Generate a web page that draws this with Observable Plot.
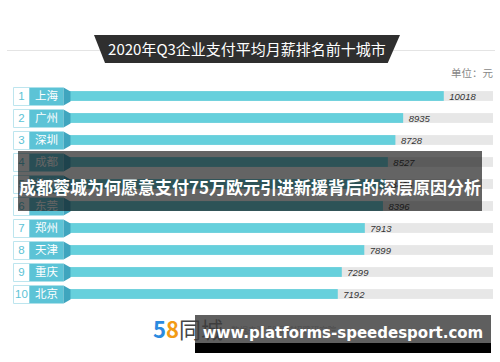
<!DOCTYPE html>
<html>
<head>
<meta charset="utf-8">
<script src="https://cdn.jsdelivr.net/npm/d3@7"></script>
<script src="https://cdn.jsdelivr.net/npm/@observablehq/plot@0.6"></script>
<style>
  body { margin: 0; background: #fff; }
  #wrap { position: relative; width: 500px; height: 362px; overflow: hidden; background: #fff;
          font-family: "Noto Sans CJK SC", "Noto Sans", sans-serif; }
  #chart { position: absolute; left: 0; top: 0; }
  .abs { position: absolute; }
</style>
</head>
<body>
<div id="wrap">
  <div id="chart"></div>
  <div class="abs" style="left:7px;top:50px;width:488px;height:1px;background:#e4e4e4"></div>
  <div class="abs" id="titlebox" style="left:94px;top:35px;width:306px;height:28px;background:#2f2f2f;
       clip-path:polygon(0 0,100% 0,96% 100%,3.6% 100%);"></div>
  <div class="abs" id="title" style="left:94px;top:35px;width:306px;height:28px;line-height:28px;text-align:center;
       color:#fff;font-size:15px;"></div>
  <div class="abs" id="unit" style="right:7px;top:65px;font-size:10.5px;color:#888;"></div>
  <div class="abs" id="logo" style="left:153px;top:314px;font-size:22px;line-height:28px;font-weight:bold;white-space:nowrap;"></div>
  <div class="abs" id="source" style="left:231px;top:323px;font-size:8.5px;color:#9a9a9a;white-space:nowrap;"></div>
  <div class="abs" id="banner" style="left:18px;top:151px;width:464px;height:60px;background:rgba(13,13,13,0.64);"></div>
  <div class="abs" id="bannerText" style="left:18px;top:151px;width:464px;height:60px;line-height:72px;text-align:center;
       color:#fff;font-weight:bold;font-size:17px;white-space:nowrap;"></div>
  <div class="abs" style="left:195px;top:315px;width:296px;height:28px;background:rgba(60,60,60,0.82);"></div>
  <div class="abs" style="left:195px;top:343px;width:296px;height:10px;background:#000;"></div>
  <div class="abs" id="wm" style="left:195px;top:322px;width:296px;text-align:center;color:#fff;font-weight:bold;
       font-family:'DejaVu Sans',sans-serif;font-size:15px;line-height:22px;white-space:nowrap;"></div>
</div>
<script>
// ---- data ----
const ranks = [1, 2, 3, 4, 5, 6, 7, 8, 9, 10];
const cities = ["上海", "广州", "深圳", "成都", "杭州", "东莞", "郑州", "天津", "重庆", "北京"];
const salaries = [10018, 8935, 8728, 8527, 8468, 8396, 7913, 7899, 7299, 7192];
const xMax = 11330;

const titleText = "2020年Q3企业支付平均月薪排名前十城市";
const unitText = "单位：元";
const sourceText = "数据来源:58同城招聘研究院";
const bannerText = "成都蓉城为何愿意支付75万欧元引进新援背后的深层原因分析";
const watermarkText = "www.platforms-speedesport.com";

const rows = cities.map((c, i) => ({rank: ranks[i], city: c, value: salaries[i]}));

// custom symbols (pixel geometry relative to the x=0 position of each row)
const numberBox = {draw(ctx) { ctx.rect(-55, -9, 16, 18); }};
const cityBox = {draw(ctx) { ctx.rect(-39, -9, 34, 18); }};
const chevron = {draw(ctx) {
  ctx.moveTo(-5, -9); ctx.lineTo(2, -5); ctx.lineTo(2, 5); ctx.lineTo(-5, 9); ctx.closePath();
}};

const chart = Plot.plot({
  width: 500,
  height: 362,
  marginLeft: 68,
  marginRight: 7,
  marginTop: 83.9,
  marginBottom: 55.6,
  x: {domain: [0, xMax], axis: null},
  y: {domain: cities, axis: null, padding: 0},
  style: {background: "transparent", fontFamily: "'Noto Sans CJK SC', sans-serif"},
  marks: [
    Plot.barX(rows, {x1: 0, x2: () => xMax, y: "city", fill: "#e7e7e7", insetTop: 6.1, insetBottom: 6.1}),
    Plot.barX(rows, {x1: 0, x2: "value", y: "city", fill: "#66d0dc", insetTop: 6.1, insetBottom: 6.1}),
    Plot.dot(rows, {x: () => 0, y: "city", symbol: numberBox, fill: "#fff", stroke: "#bde5ee", strokeWidth: 1}),
    Plot.dot(rows, {x: () => 0, y: "city", symbol: cityBox, fill: "#5cc3d6", stroke: "none"}),
    Plot.dot(rows, {x: () => 0, y: "city", symbol: chevron, fill: "#3fa5be", stroke: "none"}),
    Plot.text(rows, {x: () => 0, y: "city", text: d => String(d.rank), dx: -47, fill: "#5cc3d6",
      fontSize: 11.5, textAnchor: "middle", fontFamily: "Arial, 'Liberation Sans', sans-serif"}),
    Plot.text(rows, {x: () => 0, y: "city", text: "city", dx: -22, fill: "#fff", fontSize: 11.5, textAnchor: "middle"}),
    Plot.text(rows, {x: "value", y: "city", text: d => String(d.value), dx: 5, textAnchor: "start",
      fill: "#333", fontSize: 9.5, fontStyle: "italic", fontFamily: "Arial, 'Liberation Sans', sans-serif"})
  ]
});
document.getElementById("chart").appendChild(chart);

document.getElementById("title").textContent = titleText;
document.getElementById("unit").textContent = unitText;
document.getElementById("source").textContent = sourceText;
document.getElementById("bannerText").textContent = bannerText;
document.getElementById("wm").textContent = watermarkText;
const logo = document.getElementById("logo");
logo.innerHTML = '<span style="color:#2a8be0">5</span><span style="color:#f29b16">8</span><span style="color:#444;font-weight:normal">同城</span>';
</script>
</body>
</html>
